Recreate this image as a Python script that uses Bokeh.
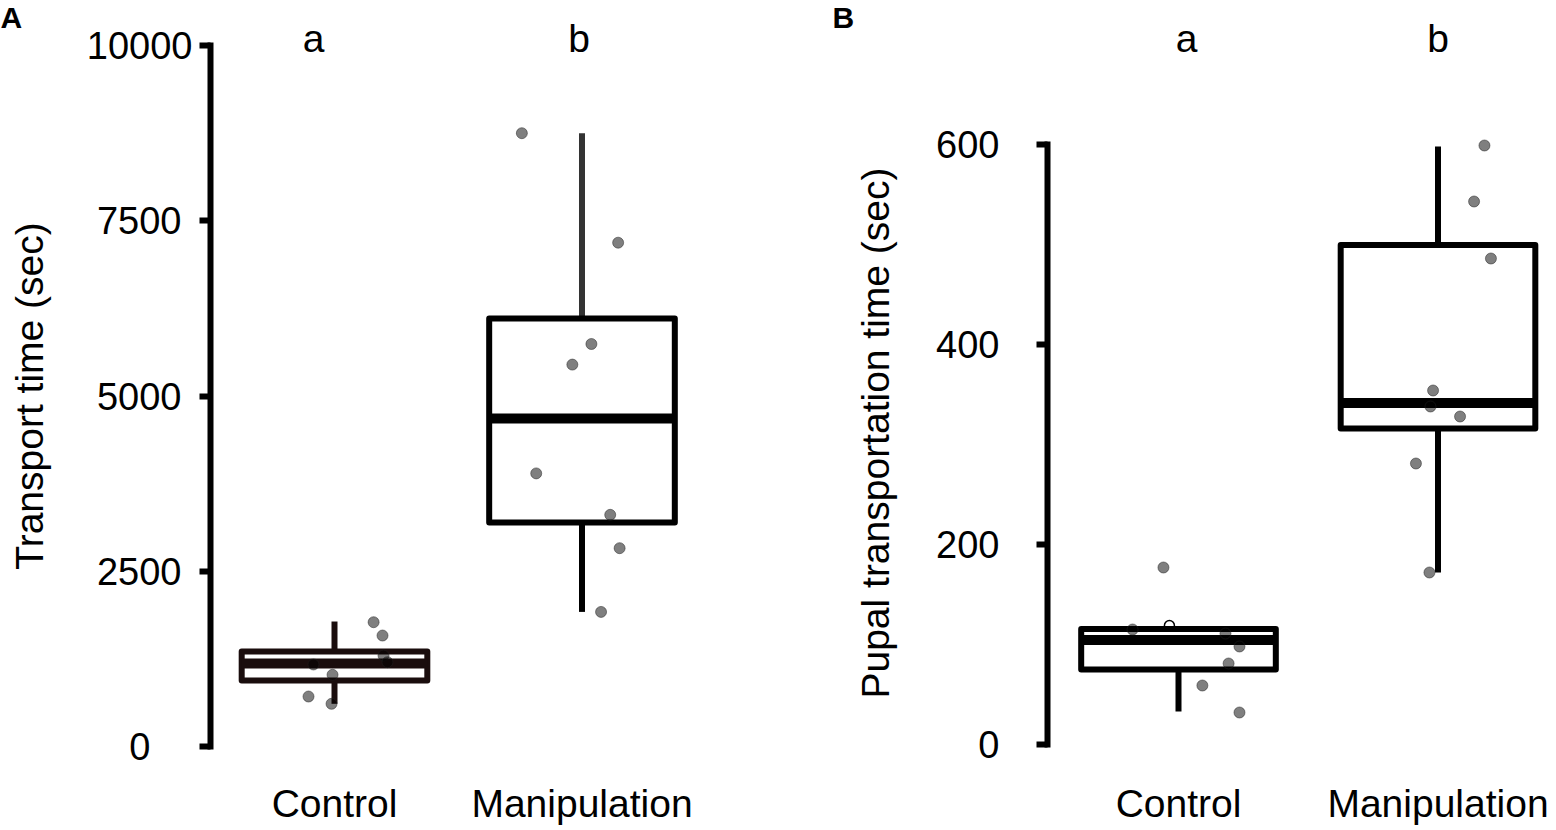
import math
from bokeh.plotting import figure
from bokeh.models import Range1d, FixedTicker, ColumnDataSource, LinearAxis
from bokeh.core.properties import value
from bokeh.layouts import row
from bokeh.embed import file_html
from bokeh.resources import INLINE

FONT = "Liberation Sans"

categories = ["Control", "Manipulation"]
group_letters = ["a", "b"]

# ---------------- Panel A: Transport time (sec) ----------------
a_ticks = [0, 2500, 5000, 7500, 10000]
a_whisker_low = [609, 1920]
a_q1 = [941, 3195]
a_median = [1184, 4679]
a_q3 = [1355, 6106]
a_whisker_high = [1783, 8749]
a_control_points = [1773, 1583, 1298, 1203, 1170, 1023, 713, 609]
a_control_jitter = [0.158, 0.194, 0.198, 0.214, -0.085, -0.008, -0.105, -0.012]
a_manip_points = [8749, 7187, 5742, 5448, 3896, 3305, 2829, 1920]
a_manip_jitter = [-0.243, 0.146, 0.038, -0.039, -0.185, 0.114, 0.152, 0.077]

# ---------------- Panel B: Pupal transportation time (sec) ----------------
b_ticks = [0, 200, 400, 600]
b_whisker_low = [33, 172]
b_q1 = [75, 316]
b_median = [104.5, 341.5]
b_q3 = [115.5, 499.5]
b_whisker_high = [115.5, 598]
b_control_points = [177, 115, 111, 98, 81, 59, 32]
b_control_jitter = [-0.058, -0.177, 0.181, 0.235, 0.193, 0.092, 0.235]
b_control_open = [119]
b_control_open_jitter = [-0.035]
b_manip_points = [599, 543, 486, 354, 338, 328, 281, 172]
b_manip_jitter = [0.179, 0.139, 0.204, -0.019, -0.029, 0.085, -0.085, -0.033]

BOX_W = 0.75
HEIGHT = 830
BOTTOM = 60
TICK_FONT_PX = 38
DIGIT_W = 0.556 * TICK_FONT_PX   # Liberation Sans digit advance


def make_panel(width, xr, yr, axis_x, ticks, ylabel, ylabel_y, ylabel_xoff,
               label_mode, label_dist, lows, q1s, meds, q3s, highs,
               box_colors, up_colors, low_colors, pts_sets,
               letter_y, letter_offsets, panel_letter, panel_y, panel_xoff):
    p = figure(width=width, height=HEIGHT, x_range=Range1d(*xr), y_range=Range1d(*yr),
               output_backend="svg", toolbar_location=None,
               min_border_left=0, min_border_right=0, min_border_top=0,
               min_border_bottom=BOTTOM)
    p.frame_align = False
    p.outline_line_color = None
    p.grid.visible = False
    p.background_fill_color = "white"
    p.border_fill_color = "white"

    # axis line (no ticks of its own)
    ya = p.yaxis[0]
    ya.fixed_location = axis_x
    ya.ticker = FixedTicker(ticks=[])
    ya.bounds = (ticks[0], ticks[-1])
    ya.axis_line_width = 6
    ya.axis_line_color = "black"
    ya.axis_line_cap = "square"
    ya.major_tick_line_color = None
    ya.minor_tick_line_color = None

    # one axis per tick so that each tick label can be placed like the original
    for t in ticks:
        label = str(t)
        if label_mode == "center":
            standoff = round(label_dist - len(label) * DIGIT_W / 2)
        else:
            standoff = label_dist
        ax = LinearAxis(fixed_location=axis_x, ticker=FixedTicker(ticks=[t]),
                        major_label_overrides={t: label},
                        axis_line_color=None, minor_tick_line_color=None,
                        major_tick_line_width=6, major_tick_line_color="black",
                        major_tick_out=11, major_tick_in=0,
                        major_label_standoff=standoff,
                        major_label_text_font=FONT,
                        major_label_text_font_size=f"{TICK_FONT_PX}px",
                        major_label_text_color="black")
        p.add_layout(ax, "left")

    xs = [i + 1 for i in range(len(categories))]
    xa = p.xaxis[0]
    xa.ticker = FixedTicker(ticks=xs)
    xa.major_label_overrides = {x: c for x, c in zip(xs, categories)}
    xa.axis_line_color = None
    xa.major_tick_line_color = None
    xa.minor_tick_line_color = None
    xa.major_tick_out = 0
    xa.major_tick_in = 0
    xa.major_label_standoff = 11
    xa.major_label_text_font = FONT
    xa.major_label_text_font_size = "39px"
    xa.major_label_text_color = "black"

    # y-axis title (rotated text next to the axis)
    p.text(x=[axis_x], y=[ylabel_y], text=[ylabel], angle=math.pi / 2,
           x_offset=ylabel_xoff, text_align="center", text_baseline="alphabetic",
           text_font=value(FONT), text_font_size="39px", text_color="black")

    src = ColumnDataSource(dict(
        x=xs, left=[x - BOX_W / 2 for x in xs], right=[x + BOX_W / 2 for x in xs],
        lo=lows, q1=q1s, med=meds, q3=q3s, hi=highs,
        bc=box_colors, uc=up_colors, lc=low_colors))

    p.segment(x0="x", y0="q3", x1="x", y1="hi", line_width=6, line_color="uc", source=src)
    p.segment(x0="x", y0="q1", x1="x", y1="lo", line_width=6, line_color="lc", source=src)

    for kind, xi, vals, jit in pts_sets:
        if kind == "open":
            p.scatter([xi + j for j in jit], vals, size=10, fill_color="white",
                      line_color="black", line_width=1.5)

    p.quad(left="left", right="right", bottom="q1", top="q3", fill_color=None,
           line_color="bc", line_width=6, line_join="round", source=src)
    p.segment(x0="left", y0="med", x1="right", y1="med", line_width=10,
              line_color="bc", source=src)

    for kind, xi, vals, jit in pts_sets:
        if kind == "dot":
            p.scatter([xi + j for j in jit], vals, size=11, fill_color="black",
                      fill_alpha=0.5, line_color="#222222", line_alpha=0.5, line_width=1)

    # significance letters above each group
    p.text(x=xs, y=[letter_y] * len(xs), text=group_letters, x_offset=letter_offsets,
           text_align="center", text_baseline="alphabetic", text_font=value(FONT),
           text_font_size="39px", text_color="black")
    # panel letter
    p.text(x=[xr[0]], y=[panel_y], text=[panel_letter], x_offset=panel_xoff,
           text_align="left", text_baseline="alphabetic", text_font=value(FONT),
           text_font_size="30px", text_font_style="bold", text_color="black")
    return p


pA = make_panel(
    820, (-0.34949, 2.96364), (-342.4, 10642), 0.49899, a_ticks,
    "Transport time (sec)", 5000, -181, "center", 60,
    a_whisker_low, a_q1, a_median, a_q3, a_whisker_high,
    ["#1a0d0d", "black"], ["#1a0d0d", "#333333"], ["#1a0d0d", "black"],
    [("dot", 1, a_control_points, a_control_jitter),
     ("dot", 2, a_manip_points, a_manip_jitter)],
    10100, [-21, -3], "A", 10400, 0)

pB = make_panel(
    736, (-0.37958, 2.45664), (-26, 744), 0.49518, b_ticks,
    "Pupal transportation time (sec)", 311.5, -172, "right", 37,
    b_whisker_low, b_q1, b_median, b_q3, b_whisker_high,
    ["black", "black"], ["black", "black"], ["black", "black"],
    [("open", 1, b_control_open, b_control_open_jitter),
     ("dot", 1, b_control_points, b_control_jitter),
     ("dot", 2, b_manip_points, b_manip_jitter)],
    706, [8, 0], "B", 727, 12)

layout = row(pA, pB)
open("out.html", "w").write(file_html(layout, INLINE))
